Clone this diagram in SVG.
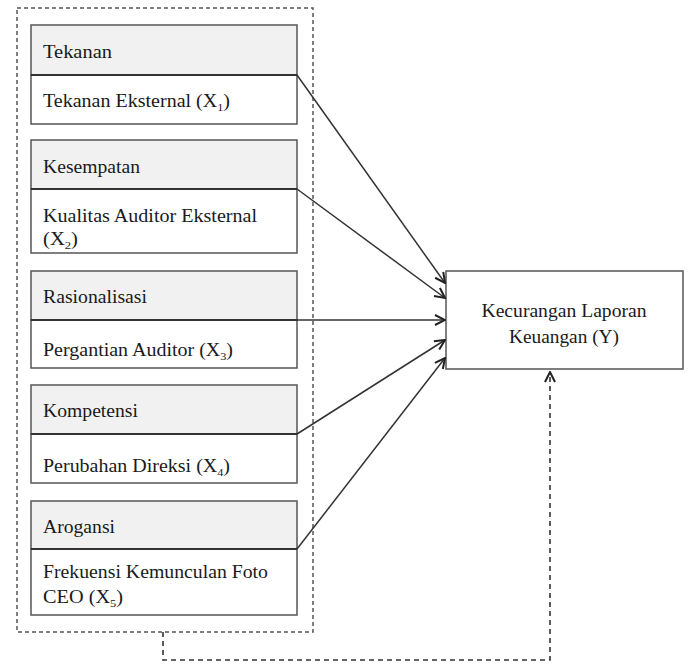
<svg xmlns="http://www.w3.org/2000/svg" width="688" height="664" viewBox="0 0 688 664">
<defs>
<style>
.hdr{fill:#f1f1f1;stroke:#555;stroke-width:1.5}
.bdy{fill:#fff;stroke:#555;stroke-width:1.5}
.div{stroke:#333;stroke-width:2}
text{font-family:"Liberation Serif","Times New Roman","DejaVu Serif",serif;font-size:18px;fill:#1a1a1a}
.sub{font-size:11px}
.conn{stroke:#333;stroke-width:1.5;fill:none}
.dash{stroke:#555;stroke-width:1.5;fill:none;stroke-dasharray:4 3}
.dash2{stroke:#333;stroke-width:1.6;fill:none;stroke-dasharray:5 4}
</style>
<marker id="arr" viewBox="0 0 12 12" refX="11" refY="6" markerWidth="12" markerHeight="12" markerUnits="userSpaceOnUse" orient="auto">
<path d="M1,1 L11,6 L1,11" fill="none" stroke="#222" stroke-width="2"/>
</marker>
</defs>
<rect x="0" y="0" width="688" height="664" fill="#fff"/>
<rect id="group-box" class="dash" x="17" y="8" width="296" height="624"/>

<g id="n1">
<rect class="hdr" x="31" y="25" width="266" height="50"/>
<rect class="bdy" x="31" y="75" width="266" height="49"/>
<line class="div" x1="31" y1="75" x2="297" y2="75"/>
<text x="43" y="58" textLength="69" lengthAdjust="spacingAndGlyphs">Tekanan</text>
<text x="43" y="107" textLength="187" lengthAdjust="spacingAndGlyphs">Tekanan Eksternal (X<tspan class="sub" dy="4">1</tspan><tspan dy="-4">)</tspan></text>
</g>
<g id="n2">
<rect class="hdr" x="31" y="140" width="266" height="49"/>
<rect class="bdy" x="31" y="189" width="266" height="64"/>
<line class="div" x1="31" y1="189" x2="297" y2="189"/>
<text x="43" y="173" textLength="97" lengthAdjust="spacingAndGlyphs">Kesempatan</text>
<text x="43" y="222" textLength="214" lengthAdjust="spacingAndGlyphs">Kualitas Auditor Eksternal</text>
<text x="43" y="245" textLength="35" lengthAdjust="spacingAndGlyphs">(X<tspan class="sub" dy="4">2</tspan><tspan dy="-4">)</tspan></text>
</g>
<g id="n3">
<rect class="hdr" x="31" y="271" width="266" height="49"/>
<rect class="bdy" x="31" y="320" width="266" height="48"/>
<line class="div" x1="31" y1="320" x2="297" y2="320"/>
<text x="43" y="303" textLength="104" lengthAdjust="spacingAndGlyphs">Rasionalisasi</text>
<text x="43" y="356" textLength="190" lengthAdjust="spacingAndGlyphs">Pergantian Auditor (X<tspan class="sub" dy="4">3</tspan><tspan dy="-4">)</tspan></text>
</g>
<g id="n4">
<rect class="hdr" x="31" y="385" width="266" height="49"/>
<rect class="bdy" x="31" y="434" width="266" height="49"/>
<line class="div" x1="31" y1="434" x2="297" y2="434"/>
<text x="43" y="417" textLength="95" lengthAdjust="spacingAndGlyphs">Kompetensi</text>
<text x="43" y="472" textLength="187" lengthAdjust="spacingAndGlyphs">Perubahan Direksi (X<tspan class="sub" dy="4">4</tspan><tspan dy="-4">)</tspan></text>
</g>
<g id="n5">
<rect class="hdr" x="31" y="501" width="266" height="48"/>
<rect class="bdy" x="31" y="549" width="266" height="66"/>
<line class="div" x1="31" y1="549" x2="297" y2="549"/>
<text x="43" y="533" textLength="72" lengthAdjust="spacingAndGlyphs">Arogansi</text>
<text x="43" y="578" textLength="225" lengthAdjust="spacingAndGlyphs">Frekuensi Kemunculan Foto</text>
<text x="43" y="603" textLength="80" lengthAdjust="spacingAndGlyphs">CEO (X<tspan class="sub" dy="4">5</tspan><tspan dy="-4">)</tspan></text>
</g>
<g id="y">
<rect class="bdy" x="446" y="271" width="237" height="98"/>
<text x="564" y="317" text-anchor="middle" textLength="165" lengthAdjust="spacingAndGlyphs">Kecurangan Laporan</text>
<text x="564" y="343" text-anchor="middle" textLength="110" lengthAdjust="spacingAndGlyphs">Keuangan (Y)</text>
</g>
<g id="connectors">
<line class="conn" x1="297" y1="75" x2="445" y2="283" marker-end="url(#arr)"/>
<line class="conn" x1="297" y1="189" x2="445" y2="298" marker-end="url(#arr)"/>
<line class="conn" x1="297" y1="320" x2="445" y2="320" marker-end="url(#arr)"/>
<line class="conn" x1="297" y1="434" x2="445" y2="340" marker-end="url(#arr)"/>
<line class="conn" x1="297" y1="549" x2="445" y2="358" marker-end="url(#arr)"/>
<path class="dash2" d="M163,632 L163,660 L550,660 L550,372" marker-end="url(#arr)"/>
</g>
</svg>
